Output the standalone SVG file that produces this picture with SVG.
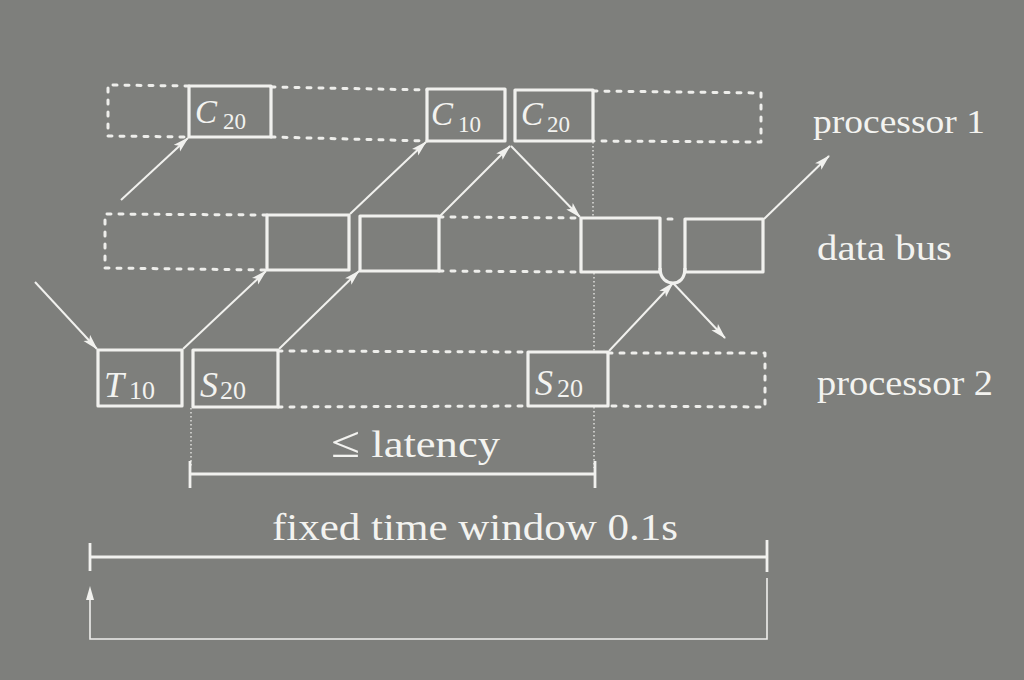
<svg xmlns="http://www.w3.org/2000/svg" width="1024" height="680" viewBox="0 0 1024 680">
<defs>
<style>
.bg{fill:#7e7f7c}
.box{fill:none;stroke:#f1f1ee;stroke-width:3.2;stroke-linejoin:round}
.lane{fill:none;stroke:#eeeeeb;stroke-width:3;stroke-dasharray:4 8;stroke-linecap:round;stroke-linejoin:round}
.dot{fill:none;stroke:#e6e6e3;stroke-width:1.4;stroke-dasharray:1.5 2.5}
.arr{fill:none;stroke:#f1f1ee;stroke-width:2;marker-end:url(#ah)}
.bar{fill:none;stroke:#f1f1ee;stroke-width:2.8}
.thin{fill:none;stroke:#eeeeeb;stroke-width:1.6}
.t{font-family:"Liberation Serif","DejaVu Serif",serif;fill:#f3f3f0}
.v{font-style:italic}
</style>
<marker id="ah" viewBox="0 0 16 10" refX="15" refY="5" markerWidth="16" markerHeight="10" markerUnits="userSpaceOnUse" orient="auto">
<path d="M0,0.5 L16,5 L0,9.5 L3.5,5 Z" fill="#f1f1ee"/>
</marker>
</defs>
<rect class="bg" x="0" y="0" width="1024" height="680"/>

<g id="lanes">
<path class="lane" d="M189,86 L108,85 L108,136 L189,137 M271,87 L427,90 M271,137 L427,141 M593,91 L761,93 L761,142 L593,141"/>
<path class="lane" d="M267,215 L105,214 L105,268 L267,270 M439,217 L581,218 M439,271 L581,272 M668,219 L674,219"/>
<path class="lane" d="M278,351 L528,352 M278,407 L528,406 M608,353 L765,353 L765,407 L608,406"/>
</g>

<g id="C20a"><rect class="box" x="189" y="86" width="82" height="51"/>
<text class="t" x="195" y="123" font-size="33"><tspan class="v">C</tspan><tspan x="223" y="129" font-size="23">20</tspan></text></g>
<g id="C10"><rect class="box" x="427" y="89" width="78" height="52"/>
<text class="t" x="431" y="125" font-size="33"><tspan class="v">C</tspan><tspan x="458" y="132" font-size="23">10</tspan></text></g>
<g id="C20b"><rect class="box" x="515" y="90" width="78" height="51"/>
<text class="t" x="521" y="125" font-size="33"><tspan class="v">C</tspan><tspan x="547" y="132" font-size="23">20</tspan></text></g>

<g id="bus1"><rect class="box" x="267" y="215" width="82" height="55"/></g>
<g id="bus2"><rect class="box" x="360" y="216" width="79" height="55"/></g>
<g id="bus3"><rect class="box" x="581" y="218" width="79" height="54"/></g>
<g id="bus4"><rect class="box" x="685" y="219" width="78" height="53"/></g>

<g id="T10"><rect class="box" x="98" y="350" width="84" height="56"/>
<text class="t" x="104" y="397" font-size="36"><tspan class="v">T</tspan><tspan x="129" y="399" font-size="26">10</tspan></text></g>
<g id="S20a"><rect class="box" x="193" y="350" width="85" height="57"/>
<text class="t" x="200" y="397" font-size="36"><tspan class="v">S</tspan><tspan x="220" y="399" font-size="26">20</tspan></text></g>
<g id="S20b"><rect class="box" x="528" y="352" width="80" height="54"/>
<text class="t" x="535" y="395" font-size="36"><tspan class="v">S</tspan><tspan x="557" y="397" font-size="26">20</tspan></text></g>

<g id="connectors">
<path class="arr" d="M121,200 L188,138"/>
<path class="arr" d="M35,282 L97,349"/>
<path class="arr" d="M183,349 L266,271"/>
<path class="arr" d="M350,214 L426,142"/>
<path class="arr" d="M279,349 L359,271"/>
<path class="arr" d="M440,216 L510,146"/>
<path class="arr" d="M511,146 L580,217"/>
<path class="arr" d="M609,351 L673,283"/>
<path class="arr" d="M673,283 L725,338"/>
<path class="arr" d="M764,219 L829,156"/>
<path class="box" d="M660,268 C660,279 667,283 673,283 C679,283 685,279 685,268"/>
<path class="dot" d="M593,142 V217 M594,273 V351 M594,407 V468 M191,408 V468"/>
</g>

<g id="latency">
<path class="bar" d="M190,461 V488 M190,474 H595 M595,461 V488"/>
<text class="t" x="331" y="457" font-size="37" textLength="169" lengthAdjust="spacingAndGlyphs"><tspan font-size="44">≤</tspan> latency</text>
</g>

<g id="window">
<path class="bar" d="M90,543 V571 M90,557 H767 M767,540 V572"/>
<path class="thin" d="M767,578 V639 H90 V598"/>
<path d="M90,586 L94,600 L86,600 Z" fill="#f1f1ee"/>
<text class="t" x="272" y="540" font-size="37" textLength="406" lengthAdjust="spacingAndGlyphs">fixed time window 0.1s</text>
</g>

<g id="labels">
<text class="t" x="813" y="133" font-size="34" textLength="172" lengthAdjust="spacingAndGlyphs">processor 1</text>
<text class="t" x="817" y="260" font-size="36" textLength="135" lengthAdjust="spacingAndGlyphs">data bus</text>
<text class="t" x="817" y="395" font-size="36" textLength="176" lengthAdjust="spacingAndGlyphs">processor 2</text>
</g>
</svg>
